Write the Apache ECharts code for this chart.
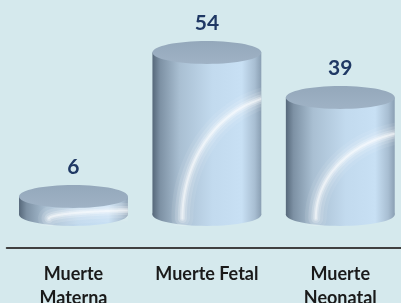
<!DOCTYPE html>
<html>
<head>
<meta charset="utf-8">
<script src="https://cdn.jsdelivr.net/npm/echarts@6/dist/echarts.min.js"></script>
<style>
  html, body { margin: 0; padding: 0; background: #d5e9ed; }
  #chart { width: 401px; height: 303px; }
</style>
</head>
<body>
<div id="chart"></div>
<script>
// 数据
const categories = ['Muerte\nMaterna', 'Muerte Fetal', 'Muerte\nNeonatal'];
const values = [6, 54, 39];

const chart = echarts.init(document.getElementById('chart'));

// 圆柱侧面渐变
const sideFill = new echarts.graphic.LinearGradient(0, 0, 1, 0, [
    { offset: 0, color: '#56687a' },
    { offset: 0.07, color: '#7d91a4' },
    { offset: 0.25, color: '#a9bfd2' },
    { offset: 0.55, color: '#c2daee' },
    { offset: 0.82, color: '#c8e0f4' },
    { offset: 0.94, color: '#a8bed2' },
    { offset: 1, color: '#8a9fb3' }
]);
const topFill = new echarts.graphic.LinearGradient(0, 0, 0, 1, [
    { offset: 0, color: '#94a8bb' },
    { offset: 1, color: '#9fb2c5' }
]);

// 高光层：线宽、透明度
const glowLayers = [[22, 0.08], [15, 0.13], [9, 0.2], [5, 0.3], [2, 0.45]];

function renderCylinder(params, api) {
    const base = api.coord([api.value(0), 0]);
    const top = api.coord([api.value(0), api.value(1)]);
    const cx = base[0];
    const rx = api.size([1, 0])[0] * 0.408;
    const ry = rx * 0.21;
    const baseY = base[1];
    const topY = top[1];
    const h = baseY - topY;

    // 高光弧线
    const hcx = cx + 1.5 * rx;
    const hcy = baseY + 4;
    const hRx = 1.95 * rx;
    const hRy = Math.max(h * 0.8 - 6, 6);
    const pts = [];
    for (let t = Math.PI; t <= 1.5 * Math.PI; t += 0.02) {
        pts.push([hcx + hRx * Math.cos(t), hcy + hRy * Math.sin(t)]);
    }
    const clip = { type: 'rect', shape: { x: cx - rx, y: topY, width: 2 * rx, height: h + ry } };

    const children = [
        { type: 'rect', shape: { x: cx - rx, y: topY, width: 2 * rx, height: h }, style: { fill: sideFill } },
        { type: 'ellipse', shape: { cx: cx, cy: baseY, rx: rx, ry: ry }, style: { fill: sideFill } }
    ];
    glowLayers.forEach(function (g) {
        children.push({
            type: 'polyline', shape: { points: pts, smooth: 0.3 }, clipPath: clip,
            style: { stroke: 'rgba(255,255,255,' + g[1] + ')', lineWidth: g[0], fill: null, lineCap: 'round' }
        });
    });
    children.push(
        { type: 'ellipse', shape: { cx: cx, cy: topY, rx: rx, ry: ry }, style: { fill: topFill } },
        {
            type: 'text',
            style: {
                text: String(api.value(1)), x: cx, y: topY - ry - 18,
                align: 'center', verticalAlign: 'middle',
                font: 'bold 21px Lato', fill: '#1f3864'
            }
        }
    );
    return { type: 'group', children: children };
}

const option = {
    backgroundColor: '#d5e9ed',
    animation: false,
    grid: { left: 6.75, right: -6, top: 34.5, bottom: 88.5, outerBoundsMode: 'none' },
    xAxis: {
        type: 'category',
        data: categories,
        offset: 33,
        axisLine: { onZero: false, lineStyle: { color: '#404040', width: 2 } },
        axisTick: { show: false },
        axisLabel: {
            margin: 15,
            color: '#1a1a1a',
            fontFamily: 'Lato',
            fontWeight: 'bold',
            fontSize: 18,
            lineHeight: 24,
            interval: 0
        }
    },
    yAxis: { type: 'value', min: 0, max: 60, show: false },
    series: [{
        type: 'custom',
        renderItem: renderCylinder,
        data: values.map((v, i) => [i, v])
    }]
};

chart.setOption(option);
</script>
</body>
</html>
